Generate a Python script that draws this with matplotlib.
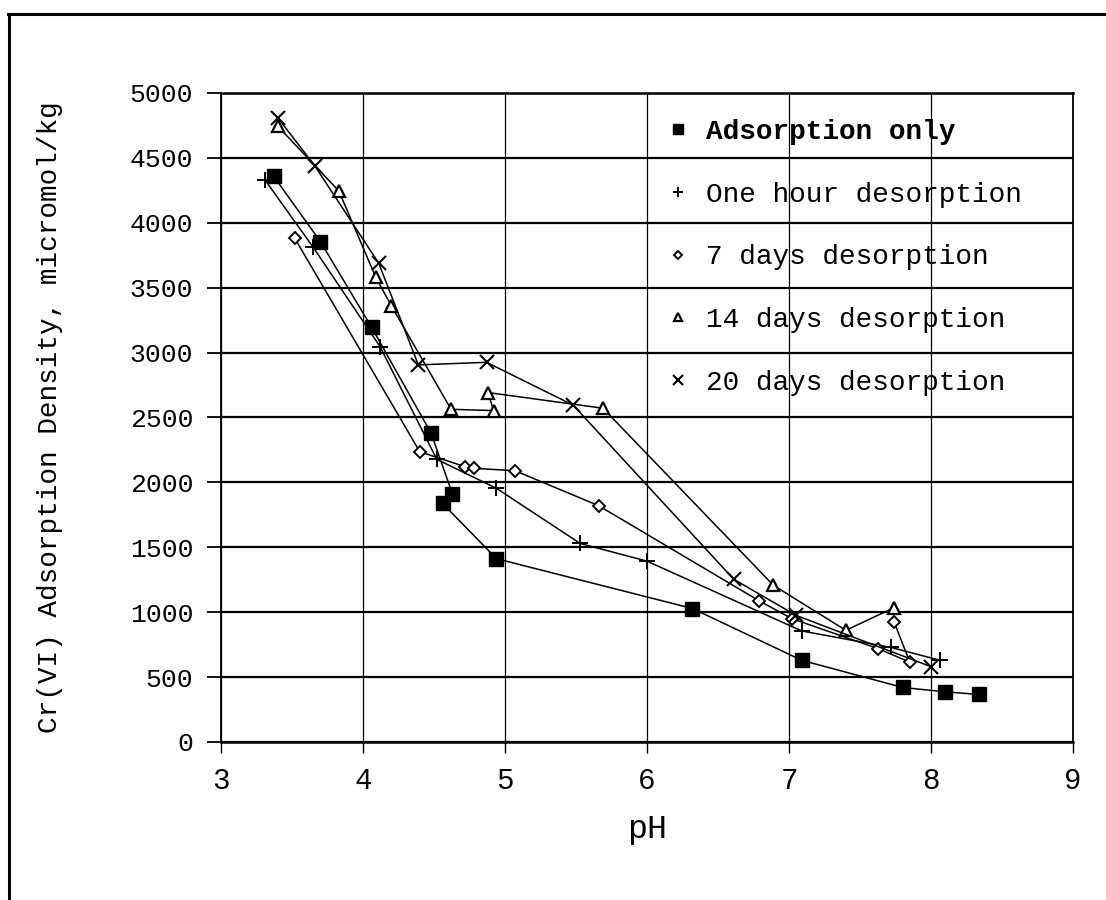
import matplotlib
matplotlib.use("Agg")
import matplotlib.pyplot as plt
from matplotlib.lines import Line2D

# ---- data ----
ads_ph = [3.37, 3.70, 4.06, 4.48, 4.63, 4.56, 4.94, 6.32, 7.09, 7.80, 8.10, 8.34]
ads_val = [4360, 3855, 3196, 2378, 1910, 1838, 1412, 1028, 629, 420, 386, 366]

hour_ph = [3.31, 3.65, 4.12, 4.52, 4.94, 5.53, 6.00, 7.09, 7.72, 8.06]
hour_val = [4330, 3810, 3046, 2177, 1954, 1529, 1393, 855, 728, 630]

d7_ph = [3.52, 4.40, 4.72, 4.78, 5.07, 5.66, 6.79, 7.02, 7.63, 7.85, 7.74]
d7_val = [3880, 2236, 2120, 2108, 2090, 1820, 1087, 950, 718, 615, 925]

d14_ph = [3.40, 3.83, 4.09, 4.20, 4.62, 4.92, 4.88, 5.69, 6.89, 7.40, 7.74]
d14_val = [4744, 4245, 3580, 3360, 2563, 2553, 2692, 2571, 1207, 860, 1035]

d20_ph = [3.40, 3.66, 4.11, 4.39, 4.87, 5.48, 6.61, 7.05, 8.00]
d20_val = [4809, 4440, 3690, 2905, 2925, 2595, 1254, 975, 580]

labels = ["Adsorption only", "One hour desorption", "7 days desorption",
          "14 days desorption", "20 days desorption"]
x_ticks = [3, 4, 5, 6, 7, 8, 9]
y_ticks = [0, 500, 1000, 1500, 2000, 2500, 3000, 3500, 4000, 4500, 5000]

MONO = ["Liberation Mono", "DejaVu Sans Mono"]

fig = plt.figure(figsize=(11.06, 9.0), dpi=100)
ax = fig.add_axes([0.1998, 0.1756, 0.9702 - 0.1998, 0.8967 - 0.1756])

lw = 1.1
ax.plot(ads_ph, ads_val, color="black", lw=lw, marker="s", ms=9.5,
        mfc="black", mec="black", label=labels[0], zorder=3)
ax.plot(hour_ph, hour_val, color="black", lw=lw, marker="+", ms=11,
        mew=1.4, label=labels[1], zorder=3)
ax.plot(d7_ph, d7_val, color="black", lw=lw, marker="D", ms=6.5,
        mfc="white", mec="black", mew=1.4, label=labels[2], zorder=3)
ax.plot(d14_ph, d14_val, color="black", lw=lw, marker="^", ms=9,
        mfc="white", mec="black", mew=1.6, label=labels[3], zorder=3)
ax.plot(d20_ph, d20_val, color="black", lw=lw, marker="x", ms=10,
        mew=1.5, label=labels[4], zorder=3)

ax.set_xlim(3, 9)
ax.set_ylim(0, 5000)
ax.set_xticks(x_ticks)
ax.set_yticks(y_ticks)
ax.set_xticklabels([str(v) for v in x_ticks], fontfamily=MONO, fontsize=21)
ax.set_yticklabels([str(v) for v in y_ticks], fontfamily=MONO, fontsize=19)
ax.tick_params(axis="y", direction="out", length=10, width=1.3, pad=10)
ax.tick_params(axis="x", direction="out", length=8, width=1.0, pad=10)

ax.yaxis.grid(True, color="black", lw=1.6)
ax.xaxis.grid(True, color="black", lw=0.9)
ax.set_axisbelow(True)
for s in ["left", "right"]:
    ax.spines[s].set_linewidth(1.3)
for s in ["top", "bottom"]:
    ax.spines[s].set_linewidth(1.8)

ax.set_xlabel("pH", fontfamily=MONO, fontsize=24, labelpad=14)
ax.set_ylabel("Cr(VI) Adsorption Density, micromol/kg", fontfamily=MONO,
              fontsize=20, labelpad=48)

leg = ax.legend(loc="upper left", bbox_to_anchor=(0.528, 0.960),
                frameon=False, prop={"family": MONO, "size": 20},
                handlelength=0.5, handletextpad=0.75, labelspacing=1.32,
                markerscale=0.7, borderaxespad=0, borderpad=0)
for h in leg.legend_handles:
    h.set_linestyle("None")
leg.get_texts()[0].set_fontweight("bold")

# outer frame of the scanned page (top and left edges)
fig.add_artist(Line2D([0.007, 1.0], [0.985, 0.985], transform=fig.transFigure,
                      color="black", lw=2.2))
fig.add_artist(Line2D([0.008, 0.008], [0.0, 0.985], transform=fig.transFigure,
                      color="black", lw=2.2))

fig.savefig("out.png", dpi=100, facecolor="white")
